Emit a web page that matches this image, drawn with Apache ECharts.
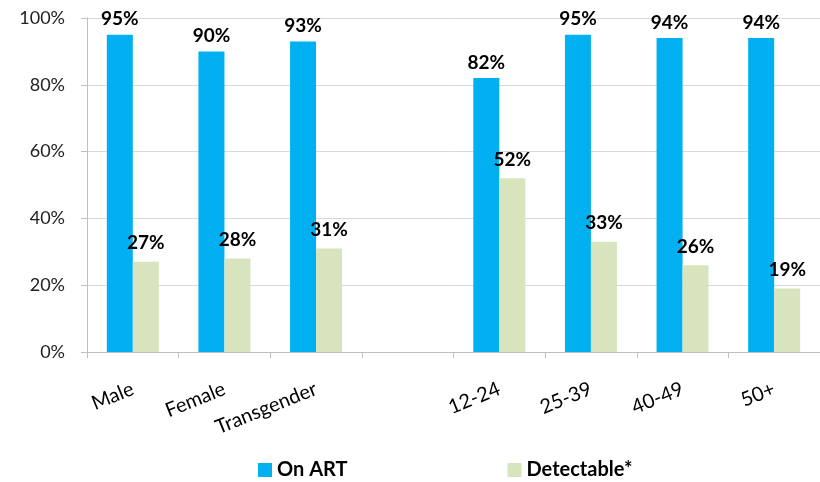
<!DOCTYPE html>
<html>
<head>
<meta charset="utf-8">
<script src="https://cdn.jsdelivr.net/npm/echarts@6/dist/echarts.min.js"></script>
<style>
  html, body { margin: 0; padding: 0; background: #fff; }
  #main { width: 820px; height: 482px; }
</style>
</head>
<body>
<div id="main"></div>
<script>
var categories = ['Male', 'Female', 'Transgender', '', '12-24', '25-39', '40-49', '50+'];
var onArt = [95, 90, 93, null, 82, 95, 94, 94];
var detectable = [27, 28, 31, null, 52, 33, 26, 19];
var yTicks = [0, 20, 40, 60, 80, 100];

var chart = echarts.init(document.getElementById('main'));

var font = 'Lato, "Open Sans", sans-serif';

var option = {
  backgroundColor: '#ffffff',
  animation: false,
  textStyle: { fontFamily: font },
  grid: { left: 87, top: 18, bottom: 130, width: 741 },
  legend: {
    bottom: -3,
    left: 253,
    itemGap: 160,
    itemWidth: 14,
    itemHeight: 14,
    icon: 'rect',
    textStyle: { fontSize: 20, fontWeight: 'bold', color: '#000', fontFamily: font },
    data: ['On ART', 'Detectable*']
  },
  xAxis: {
    type: 'category',
    data: categories,
    axisLine: { lineStyle: { color: '#bfbfbf', width: 1 } },
    axisTick: { show: true, length: 6, lineStyle: { color: '#bfbfbf' } },
    axisLabel: { rotate: 22, margin: 36, fontSize: 20, color: '#000', interval: 0 }
  },
  yAxis: {
    type: 'value',
    min: yTicks[0],
    max: yTicks[yTicks.length - 1],
    interval: 20,
    axisLine: { show: true, lineStyle: { color: '#bfbfbf' } },
    axisTick: { show: true, length: 6, lineStyle: { color: '#bfbfbf' } },
    splitLine: { lineStyle: { color: '#d9d9d9' } },
    axisLabel: { fontSize: 18, color: '#222', margin: 22, formatter: '{value}%' }
  },
  series: [
    {
      name: 'On ART',
      type: 'bar',
      data: onArt,
      barWidth: 26,
      barGap: '0%',
      itemStyle: { color: '#00b0f0' },
      label: {
        show: true,
        position: 'top',
        distance: 6,
        formatter: '{c}%',
        fontSize: 19,
        fontWeight: 'bold',
        color: '#000'
      }
    },
    {
      name: 'Detectable*',
      type: 'bar',
      data: detectable,
      barWidth: 26,
      itemStyle: { color: '#d7e4bd' },
      label: {
        show: true,
        position: 'top',
        distance: 9,
        formatter: '{c}%',
        fontSize: 19,
        fontWeight: 'bold',
        color: '#000'
      }
    }
  ]
};

chart.setOption(option);
</script>
</body>
</html>
